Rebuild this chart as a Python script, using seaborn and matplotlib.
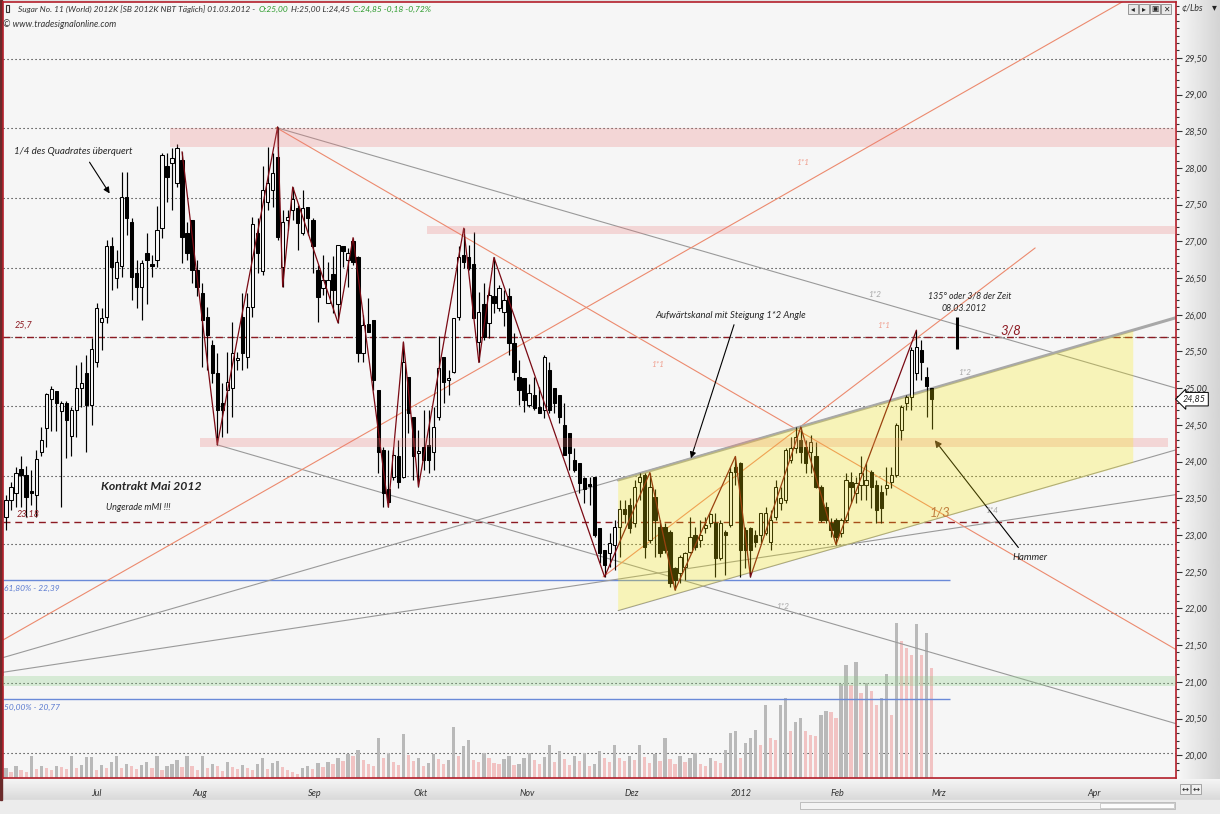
import numpy as np
import pandas as pd
import seaborn as sns
import matplotlib.pyplot as plt
from matplotlib.patches import Rectangle, Polygon
from matplotlib.ticker import FixedLocator

# --- daily OHLC, Sugar No.11 May 2012 (bar index 0 = mid June 2011, 184 = 01.03.2012)
opens = [23.25, 23.48, 23.57, 23.90, 23.82, 23.60, 23.55, 24.13, 24.46, 24.85,
         24.96, 24.69, 24.80, 24.35, 24.70, 25.00, 25.21, 24.77, 25.35, 25.90,
         25.97, 26.93, 26.50, 26.67, 27.61, 27.27, 26.57, 26.38, 26.84, 26.69,
         26.75, 27.18, 28.02, 28.07, 27.80, 28.11, 27.12, 27.29, 26.61, 26.30,
         25.97, 25.59, 25.21, 24.80, 24.98, 25.00, 25.39, 25.97, 25.43, 26.11,
         27.12, 26.59, 27.53, 27.70, 28.15, 26.65, 27.29, 27.43, 27.46, 27.12,
         27.47, 27.29, 26.61, 26.37, 26.16, 26.56, 26.14, 26.93, 26.75, 27.01,
         26.79, 25.48, 25.88, 25.93, 24.98, 24.16, 23.62, 23.79, 24.07, 23.79,
         25.15, 24.61, 24.12, 24.20, 24.23, 24.13, 24.61, 25.43, 25.11, 25.22,
         25.97, 26.82, 26.79, 26.69, 25.63, 26.15, 25.89, 26.25, 26.09, 26.04,
         26.25, 25.62, 25.15, 25.14, 24.77, 24.91, 24.75, 24.70, 25.25, 25.00,
         24.91, 24.50, 24.39, 24.02, 23.98, 23.78, 23.70, 23.79, 23.10, 22.80,
         22.76, 22.87, 23.11, 23.36, 23.41, 23.17, 23.72, 23.82, 22.93, 23.52,
         23.11, 23.11, 23.04, 22.55, 22.48, 22.56, 22.77, 23.00, 22.93, 23.10,
         23.17, 23.17, 22.69, 23.04, 23.14, 23.92, 23.98, 23.07, 23.10, 23.00,
         23.00, 23.03, 22.91, 23.25, 23.44, 23.48, 24.02, 24.19, 24.30, 24.20,
         24.13, 24.07, 23.66, 23.38, 23.17, 23.21, 23.03, 23.21, 23.72, 23.57,
         23.68, 23.68, 23.86, 23.68, 23.59, 23.64, 23.72, 23.82, 24.43, 24.80,
         24.88, 25.21, 25.52, 25.15, 25.00]
highs = [23.55, 23.72, 23.92, 24.07, 23.94, 23.89, 24.16, 24.47, 24.93, 25.03,
         24.96, 24.82, 24.82, 24.75, 25.32, 25.35, 25.45, 25.69, 26.16, 26.09,
         27.02, 27.06, 26.88, 27.95, 27.95, 27.32, 26.75, 26.75, 27.12, 26.82,
         27.48, 28.20, 28.20, 28.27, 28.32, 28.22, 27.27, 27.29, 26.75, 26.43,
         26.11, 25.66, 25.48, 25.07, 25.49, 25.90, 25.49, 26.30, 26.30, 27.33,
         27.32, 28.02, 28.29, 28.21, 28.56, 27.43, 27.43, 27.74, 27.50, 27.70,
         27.47, 27.32, 26.68, 26.82, 26.72, 26.80, 26.95, 26.93, 26.91, 27.05,
         26.80, 26.00, 26.23, 25.93, 24.98, 24.20, 24.16, 24.16, 24.30, 25.63,
         25.15, 24.61, 24.43, 24.70, 24.70, 24.75, 25.71, 25.43, 25.25, 25.96,
         26.93, 27.18, 26.95, 27.13, 26.31, 26.43, 26.38, 26.78, 26.40, 26.34,
         26.37, 25.75, 25.39, 25.14, 25.05, 25.15, 25.02, 25.45, 25.36, 25.00,
         24.91, 24.80, 24.39, 24.19, 23.98, 23.79, 23.79, 23.79, 23.10, 22.80,
         23.03, 23.21, 23.48, 23.48, 23.50, 23.75, 23.85, 23.85, 23.85, 23.62,
         23.21, 23.17, 23.07, 22.57, 22.73, 22.77, 23.25, 23.11, 23.21, 23.25,
         23.30, 23.30, 23.21, 23.07, 23.93, 24.07, 24.00, 23.11, 23.11, 23.07,
         23.30, 23.38, 23.34, 23.75, 23.66, 24.19, 24.34, 24.47, 24.47, 24.30,
         24.36, 24.27, 23.68, 23.45, 23.23, 23.23, 23.23, 23.85, 23.86, 23.79,
         24.07, 23.98, 23.89, 23.75, 23.68, 23.92, 23.92, 24.53, 24.77, 24.91,
         25.56, 25.79, 25.66, 25.29, 25.00]
lows = [23.07, 23.34, 23.38, 23.38, 23.25, 23.41, 23.25, 24.07, 24.20, 24.41,
        24.42, 23.38, 24.05, 24.07, 24.34, 24.75, 24.13, 24.50, 25.29, 25.52,
        25.89, 26.34, 26.37, 26.52, 27.09, 26.20, 26.09, 25.93, 26.14, 26.52,
        26.65, 27.05, 27.54, 27.43, 27.74, 26.71, 26.75, 26.43, 26.25, 25.29,
        25.25, 25.07, 24.23, 24.34, 24.39, 24.61, 25.25, 25.25, 25.28, 25.97,
        26.57, 26.54, 27.43, 27.47, 27.02, 26.38, 27.16, 27.29, 26.88, 27.09,
        27.09, 26.57, 25.90, 26.27, 26.16, 26.03, 25.89, 26.65, 26.38, 26.68,
        25.35, 25.35, 25.77, 24.98, 23.85, 23.38, 23.38, 23.75, 23.64, 23.78,
        24.39, 23.75, 23.66, 23.89, 23.85, 23.89, 24.57, 24.80, 24.91, 25.21,
        25.93, 26.64, 26.61, 25.95, 25.35, 25.66, 25.69, 26.03, 26.05, 25.84,
        25.45, 25.11, 24.77, 24.68, 24.75, 24.70, 24.66, 24.60, 24.66, 24.66,
        24.53, 24.09, 23.89, 23.86, 23.57, 23.43, 23.41, 22.97, 22.62, 22.43,
        22.57, 22.53, 22.70, 23.17, 23.03, 23.11, 23.48, 22.69, 22.89, 22.70,
        22.70, 22.76, 22.29, 22.25, 22.35, 22.39, 22.76, 22.80, 22.83, 23.03,
        23.11, 22.43, 22.66, 22.46, 23.11, 23.68, 22.43, 22.55, 22.43, 22.84,
        22.89, 23.00, 22.80, 23.21, 23.34, 23.44, 23.98, 24.12, 23.98, 23.85,
        23.85, 23.64, 23.18, 23.17, 22.97, 22.87, 22.97, 23.18, 23.44, 23.44,
        23.48, 23.48, 23.37, 23.17, 23.17, 23.55, 23.64, 23.79, 24.30, 24.70,
        24.70, 25.11, 25.11, 24.61, 24.45]
closes = [23.48, 23.66, 23.85, 23.82, 23.52, 23.57, 24.04, 24.30, 24.92, 24.99,
          24.80, 24.80, 24.56, 24.70, 25.00, 25.07, 24.77, 25.54, 26.09, 25.95,
          26.93, 26.65, 26.72, 27.61, 27.32, 26.52, 26.38, 26.71, 26.75, 26.67,
          27.16, 28.17, 27.88, 28.14, 28.27, 27.06, 26.84, 26.61, 26.38, 25.93,
          25.73, 25.21, 24.70, 24.70, 25.09, 25.48, 25.41, 25.48, 26.11, 27.23,
          26.84, 27.70, 27.80, 27.93, 27.06, 27.27, 27.33, 27.57, 27.25, 27.46,
          27.32, 26.93, 26.24, 26.48, 26.48, 26.34, 26.95, 26.87, 26.84, 26.72,
          25.48, 25.86, 25.77, 25.11, 24.13, 23.57, 23.45, 24.09, 23.72, 25.36,
          24.66, 24.07, 24.13, 24.02, 24.02, 24.47, 25.28, 25.09, 25.14, 25.96,
          26.79, 26.72, 26.64, 25.96, 26.04, 25.70, 26.27, 26.16, 26.37, 26.20,
          25.62, 25.22, 24.98, 24.84, 24.94, 24.73, 24.66, 25.43, 24.70, 24.80,
          24.61, 24.09, 24.12, 23.89, 23.71, 23.62, 23.67, 23.00, 22.76, 22.59,
          22.89, 23.11, 23.36, 23.28, 23.10, 23.66, 23.79, 22.83, 23.66, 23.21,
          22.76, 22.80, 22.35, 22.39, 22.70, 22.76, 22.97, 22.83, 23.00, 23.14,
          23.28, 22.69, 23.17, 23.00, 23.86, 23.86, 22.80, 22.80, 22.80, 22.91,
          23.30, 23.30, 23.21, 23.66, 23.51, 24.16, 24.19, 24.34, 24.13, 23.98,
          24.27, 23.66, 23.21, 23.21, 23.07, 22.97, 23.21, 23.75, 23.66, 23.71,
          23.85, 23.75, 23.66, 23.34, 23.37, 23.68, 23.82, 24.50, 24.75, 24.88,
          25.52, 25.56, 25.35, 25.03, 24.85]
volume = [10, 6, 12, 8, 6, 22, 9, 12, 10, 8, 12, 11, 9, 22, 10, 13, 21,
          21, 8, 13, 10, 16, 22, 10, 14, 12, 9, 13, 16, 10, 22, 8, 12, 14, 18, 11, 22,
          12, 8, 22, 10, 14, 12, 7, 16, 11, 9, 13, 10, 8, 14, 20, 9, 15, 17, 11, 8,
          6, 4, 10, 12, 9, 15, 11, 16, 14, 20, 17, 24, 22, 28, 18,
          14, 12, 40, 20, 25, 16, 13, 44, 23, 17, 20, 12, 15, 24, 19, 14, 18,
          51, 22, 32, 38, 18, 16, 25, 20, 15, 14, 19, 22, 13,
          14, 20, 25, 18, 14, 21, 33, 16, 27, 19, 13, 22, 17, 25, 12, 14, 27, 20, 16, 33,
          20, 17, 22, 18, 33, 21, 15, 24, 17, 40, 19, 14, 22, 16, 20, 25, 14, 12, 20, 17, 15, 28,
          45, 47, 20, 35, 40, 48, 33, 73, 40, 38, 73, 80, 47, 56, 60, 47, 43, 42, 63, 67,
          66, 60, 94, 113, 93, 116, 85, 95, 87, 73, 80, 104, 63, 155, 137, 130, 123, 154,
          123, 145, 110]

month_pos = [17, 37, 60, 81, 102, 123, 144, 164, 184, 215]
month_lbl = ['Jul', 'Aug', 'Sep', 'Okt', 'Nov', 'Dez', '2012', 'Feb', 'Mrz', 'Apr']

grid_levels = [29.49, 28.55, 27.59, 26.64, 25.70, 24.76, 23.81, 22.88, 21.94, 20.99, 20.03]
dash_levels = [25.7, 23.18]
fib_levels = [22.39, 20.77]
fib_labels = ['61,80% - 22,39', '50,00% - 20,77']

# swing zigzag
zz_idx = [35, 42, 54, 55, 57, 66, 69, 76, 79, 82, 91, 94, 97, 119, 128, 133, 145, 148, 158, 165, 181]
zz_px = [28.22, 24.23, 28.56, 26.38, 27.74, 25.89, 27.05, 23.38, 25.63, 23.66, 27.18, 25.35,
         26.78, 22.43, 23.85, 22.25, 24.07, 22.43, 24.47, 22.87, 25.79]

# gann angle lines: (x0, p0, x1, p1)
gray_lines = [(-0.6, 21.33, 232.6, 25.96), (-0.6, 21.13, 232.6, 23.55),
              (53.7, 28.55, 232.6, 25.00), (41.9, 24.23, 232.6, 20.43),
              (121.7, 21.97, 232.6, 24.16)]
orange_lines = [(-0.6, 21.57, 221.9, 30.26), (53.7, 28.55, 232.6, 21.44),
                (118.7, 22.43, 204.6, 26.91)]
channel_top = (121.7, 23.75, 232.6, 25.96)
channel_x = [121.7, 224.1, 224.1, 121.7]
channel_p = [23.75, 25.78, 23.98, 21.97]

# support / resistance zones: (x0, x1, p_low, p_high)
pink_zones = [(32.6, 232.6, 28.29, 28.55), (83.7, 232.6, 27.10, 27.21), (38.6, 231.0, 24.20, 24.32)]
green_zone = (-0.6, 232.6, 20.94, 21.08)

sns.set_style("white")
plt.rcParams['font.family'] = ['Lato', 'DejaVu Sans']

W, H = 1220, 814
fig = plt.figure(figsize=(W / 100, H / 100), dpi=100)
fig.patch.set_facecolor('#e2e2e2')

# window chrome in pixel coords
bg = fig.add_axes([0, 0, 1, 1])
bg.axis('off')
bg.imshow(np.linspace(0.97, 0.83, 60).reshape(1, -1), extent=(1177, 1220, 779, 0),
          cmap='gray', vmin=0, vmax=1, aspect='auto')
bg.imshow(np.linspace(0.96, 0.85, 30).reshape(-1, 1), extent=(0, 1220, 800, 779),
          cmap='gray', vmin=0, vmax=1, aspect='auto')
bg.add_patch(Rectangle((0, 800), 1220, 14, color='#ececec'))
bg.add_patch(Rectangle((800, 802), 375, 7, fc='#f3f3f3', ec='#b5b5b5', lw=0.6))
bg.add_patch(Rectangle((1100, 803), 74, 5, fc='#fcfcfc', ec='#c5c5c5', lw=0.6))
bg.add_patch(Rectangle((0, 0), 2, 800, color='#6a2a2a'))
bg.set_xlim(0, W)
bg.set_ylim(H, 0)

ax = fig.add_axes([3 / W, 1 - 778 / H, 1173 / W, 776 / H])
ax.set_facecolor('#f6f6f6')
x0, x1 = -0.6, 232.6
ylo, yhi = 19.69, 30.26

df = pd.DataFrame({'o': opens, 'h': highs, 'l': lows, 'c': closes, 'v': volume})
df['i'] = np.arange(len(df))

ax.hlines(grid_levels, x0, x1, colors='#1e1e1e', linestyles=(0, (1, 2.6)), lw=0.8, zorder=1)

# volume (1 unit = 1 px)
vcol = ['#b9b9b9' if k == 0 or df.v[k] >= df.v[k - 1] else '#f1c3c3' for k in range(len(df))]
ax.bar(df.i, df.v / 73.4, bottom=ylo, width=0.65, color=vcol, linewidth=0, zorder=1.5)

ax.hlines(dash_levels, x0, x1, colors='#8c1a22', linestyles=(0, (5, 3.5)), lw=1.0, zorder=2)
ax.hlines(fib_levels, x0, 187.7, colors='#6a8ad8', lw=1.0, zorder=2)

for a, b, c, d in gray_lines:
    ax.plot([a, c], [b, d], color='#9a9a9a', lw=0.8, zorder=2)
for a, b, c, d in orange_lines:
    ax.plot([a, c], [b, d], color='#ec8a6e', lw=0.8, zorder=2)
ax.plot(channel_top[::2], channel_top[1::2], color='#a8a8a8', lw=2.2, zorder=2.2)

# candles
up = df.c >= df.o
ax.vlines(df.i, df.l, df.h, color='black', lw=0.85, zorder=3)
body = (df.c - df.o).abs().clip(lower=0.02)
ax.bar(df.i, body, bottom=df[['o', 'c']].min(axis=1), width=0.66,
       color=np.where(up, '#f8f8f8', 'black'), edgecolor='black', linewidth=0.75, zorder=3.5)

sns.lineplot(x=zz_idx, y=zz_px, sort=False, estimator=None, color='#7a0a14', lw=0.9, ax=ax, zorder=4)

for a, b, lo, hi in pink_zones:
    ax.add_patch(Rectangle((a, lo), b - a, hi - lo, fc='#ee7878', alpha=0.25, lw=0, zorder=5))
ax.add_patch(Rectangle((green_zone[0], green_zone[2]), green_zone[1] - green_zone[0],
                       green_zone[3] - green_zone[2], fc='#8fd08a', alpha=0.3, lw=0, zorder=5))
ax.add_patch(Polygon(list(zip(channel_x, channel_p)), closed=True, fc='#faeb00', alpha=0.25,
                     lw=0, zorder=5))

# time marker 08.03.2012
ax.vlines(189, 25.54, 25.97, color='black', lw=2.2, zorder=6)

it = dict(style='italic', zorder=7)
ax.text(1.8, 25.79, '25,7', color='#8c1a22', fontsize=6.5, va='bottom', **it)
ax.text(2.2, 23.22, '23,18', color='#8c1a22', fontsize=6.5, va='bottom', **it)
for lv, lb in zip(fib_levels, fib_labels):
    ax.text(-0.4, lv - 0.07, lb, color='#5a7ad0', fontsize=6, va='top', **it)

ax.text(1.6, 28.22, '1/4 des Quadrates überquert', fontsize=7, va='center', **it)
ax.annotate('', xy=(20.9, 27.62), xytext=(16.3, 28.11),
            arrowprops=dict(arrowstyle='-|>', color='black', lw=0.8, mutation_scale=9))
ax.text(18.9, 23.66, 'Kontrakt Mai 2012', fontsize=8.8, weight='bold', va='center', **it)
ax.text(19.9, 23.38, 'Ungerade mMI !!!', fontsize=6.5, va='center', **it)
ax.text(129, 25.99, 'Aufwärtskanal mit Steigung 1*2 Angle', fontsize=6.8, va='center', **it)
ax.annotate('', xy=(136.0, 24.01), xytext=(144.9, 25.90),
            arrowprops=dict(arrowstyle='-|>', color='black', lw=0.8, mutation_scale=9))
ax.text(183.3, 26.26, '135° oder 3/8 der Zeit', fontsize=6.3, va='center', **it)
ax.text(185.9, 26.08, '08.03.2012', fontsize=6.3, va='center', **it)
ax.text(197.6, 25.79, '3/8', fontsize=9.5, color='#8c1a22', va='center', **it)
ax.text(200, 22.70, 'Hammer', fontsize=7, va='center', **it)
ax.annotate('', xy=(184.3, 24.32), xytext=(201.6, 22.80),
            arrowprops=dict(arrowstyle='-|>', color='black', lw=0.8, mutation_scale=10))
ax.text(183.7, 23.30, '1/3', fontsize=9.5, color='#c08040', va='center', **it)
for xx, pp in [(128.2, 25.32), (157.1, 28.07), (173.2, 25.86)]:
    ax.text(xx, pp, '1*1', fontsize=6, color='#f0a090', va='center', **it)
for xx, pp, s in [(171.4, 26.28, '1*2'), (189.3, 25.21, '1*2'), (153.1, 22.03, '1*2'), (194.6, 23.33, '1*4')]:
    ax.text(xx, pp, s, fontsize=6, color='#a8a8a8', va='center', **it)

ax.set_xlim(x0, x1)
ax.set_ylim(ylo, yhi)
ax.yaxis.tick_right()
maj = np.arange(20, 29.51, 0.5)
ax.set_yticks(maj)
ax.set_yticklabels([f"{v:.2f}".replace('.', ',') for v in maj])
ax.yaxis.set_minor_locator(FixedLocator(np.arange(19.8, 30.25, 0.1)))
ax.tick_params(axis='y', which='major', direction='out', length=4, width=0.8, color='#333333',
               labelsize=6.5, labelcolor='#333333', pad=2)
ax.tick_params(axis='y', which='minor', direction='out', length=2, width=0.8, color='#333333')
ax.set_xticks(month_pos)
ax.set_xticklabels(month_lbl)
ax.tick_params(axis='x', direction='out', length=5, width=0.8, color='#333333',
               labelsize=6.5, labelcolor='#333333', pad=3)
for lab in ax.get_xticklabels() + ax.get_yticklabels():
    lab.set_fontstyle('italic')
for lab in ax.get_xticklabels():
    lab.set_horizontalalignment('left')
for sp in ax.spines.values():
    sp.set_color('#b4202c')
    sp.set_linewidth(1.2)

# price flag
ax.text(1.006, closes[-1], f"{closes[-1]:.2f}".replace('.', ','), transform=ax.get_yaxis_transform(),
        fontsize=6.5, style='italic', va='center', ha='left', clip_on=False, zorder=8,
        bbox=dict(boxstyle='larrow,pad=0.25', fc='white', ec='black', lw=0.7))

# header / overlay
top = fig.add_axes([0, 0, 1, 1], zorder=10)
top.axis('off')
top.set_xlim(0, W)
top.set_ylim(H, 0)
fmt = lambda v: f"{v:.2f}".replace('.', ',')
chg = closes[-1] - closes[-2]
parts = [("Sugar No. 11 (World) 2012K [SB 2012K NBT Täglich] 01.03.2012 -", '#333333'),
         (f"O:{fmt(opens[-1])}", '#2a9a2a'),
         (f"H:{fmt(highs[-1])} L:{fmt(lows[-1])}", '#333333'),
         (f"C:{fmt(closes[-1])} {fmt(chg)} {fmt(chg / closes[-2] * 100)}%", '#2a9a2a')]
r = fig.canvas.get_renderer()
xx = 18
for s, c in parts:
    t = top.text(xx, 9, s, color=c, fontsize=6, style='italic', va='center', ha='left')
    xx = t.get_window_extent(renderer=r).x1 + 3
top.add_patch(Rectangle((6, 5), 3, 7, fc='none', ec='#333333', lw=0.8))
top.text(3, 24, '© www.tradesignalonline.com', fontsize=6.5, style='italic', va='center', color='#333333')
top.text(1181, 9, '¢/Lbs', fontsize=6.5, style='italic', va='center', color='#333333')
top.text(1212, 8, '▾', fontsize=7, va='center', color='#222222')
for k, g in enumerate(['◂', '▸', '▣', '✕']):
    top.add_patch(Rectangle((1128 + 11 * k, 4), 10, 10, fc='#e8e8e8', ec='#888888', lw=0.6))
    top.text(1133 + 11 * k, 9, g, fontsize=5.5, ha='center', va='center', color='#222222',
             family='DejaVu Sans')
for k in range(2):
    top.add_patch(Rectangle((1180 + 11 * k, 784), 10, 10, fc='#f0f0f0', ec='#999999', lw=0.6))
    top.text(1185 + 11 * k, 789, '↔', fontsize=6, ha='center', va='center', family='DejaVu Sans')

fig.savefig('out.png', dpi=100)
